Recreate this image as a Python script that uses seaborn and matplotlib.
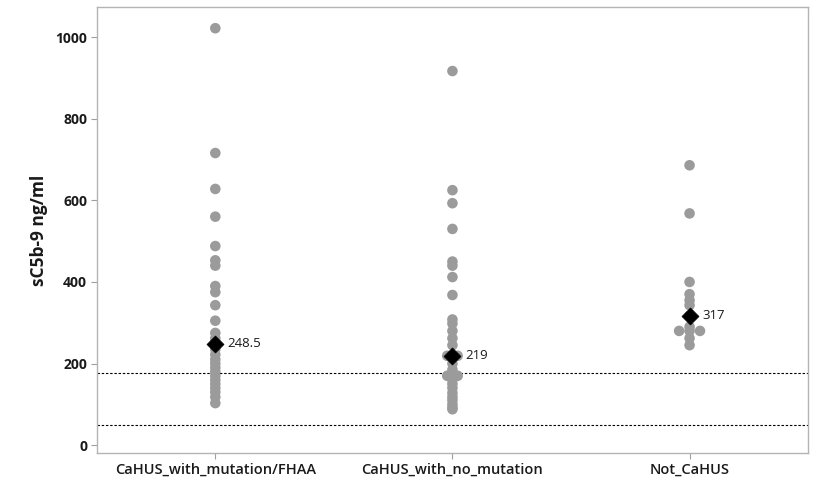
import numpy as np
import pandas as pd
import matplotlib
matplotlib.use("Agg")
import matplotlib.pyplot as plt
import seaborn as sns

# Groups and their sC5b-9 measurements (ng/ml)
groups = ["CaHUS_with_mutation/FHAA", "CaHUS_with_no_mutation", "Not_CaHUS"]

mutation_fhaa = [1022, 716, 628, 560, 488, 453, 440, 390, 375, 343, 305, 275,
                 262, 252, 245, 235, 222, 210, 200, 190, 180, 170, 160, 150,
                 140, 130, 118, 103]
no_mutation = [917, 625, 593, 530, 450, 440, 412, 368, 308, 298, 280, 262,
               245, 219, 219, 200, 185, 170, 170, 160, 150, 140, 128, 118,
               110, 100, 92, 88]
not_cahus = [686, 568, 400, 370, 355, 343, 317, 290, 280, 280, 280, 262, 245]

# Reference lines (ng/ml)
ref_lines = [176, 50]

y_ticks = [0, 200, 400, 600, 800, 1000]

records = []
for g, vals in zip(groups, [mutation_fhaa, no_mutation, not_cahus]):
    for v in vals:
        records.append((g, v))
df = pd.DataFrame(records, columns=["group", "value"])
df["gidx"] = df["group"].map({g: i for i, g in enumerate(groups)})

# Tied values are spread side by side around the group centre
step = 0.044
df["rank"] = df.groupby(["group", "value"]).cumcount()
df["nties"] = df.groupby(["group", "value"])["value"].transform("size")
df["xpos"] = df["gidx"] + (df["rank"] - (df["nties"] - 1) / 2) * step

medians = df.groupby("gidx")["value"].median().reset_index()

sns.set_theme(style="white")
plt.rcParams["font.family"] = ["Open Sans", "DejaVu Sans"]

fig = plt.figure(figsize=(8.13, 4.8), dpi=100)
ax = fig.add_axes([0.119, 0.056, 0.875, 0.929])

for r in ref_lines:
    ax.axhline(r, color="black", lw=0.8, ls=(0, (2.2, 1.6)), zorder=1)

sns.scatterplot(data=df, x="xpos", y="value", color="#9b9b9b", s=58,
                edgecolor="none", ax=ax, zorder=2, legend=False)
sns.scatterplot(data=medians, x="gidx", y="value", color="black", marker="D",
                s=75, edgecolor="black", linewidth=0.5, ax=ax, zorder=3,
                legend=False)

for _, row in medians.iterrows():
    v = row["value"]
    ax.annotate(f"{v:g}", (row["gidx"], v), xytext=(9, 0),
                textcoords="offset points", va="center", ha="left",
                fontsize=9.5, color="#1a1a1a")

ax.set_xlim(-0.5, 2.5)
ax.set_ylim(-19.6, 1073.5)
ax.set_xticks(range(len(groups)))
ax.set_xticklabels(groups, fontsize=10.5, fontweight="semibold", color="#1a1a1a")
ax.set_yticks(y_ticks)
ax.set_yticklabels([str(t) for t in y_ticks], fontsize=10, fontweight="bold",
                   color="#1a1a1a")
ax.set_xlabel("")
ax.set_ylabel("sC5b-9 ng/ml", fontsize=12.5, fontweight="bold", labelpad=5,
              color="#1a1a1a")

for s in ax.spines.values():
    s.set_color("#b4b4b4")
    s.set_linewidth(1.0)
ax.tick_params(axis="both", which="major", length=4, width=0.8,
               color="#a0a0a0", direction="out", pad=3)
ax.tick_params(left=True, bottom=True)

fig.savefig("out.png", dpi=100)
